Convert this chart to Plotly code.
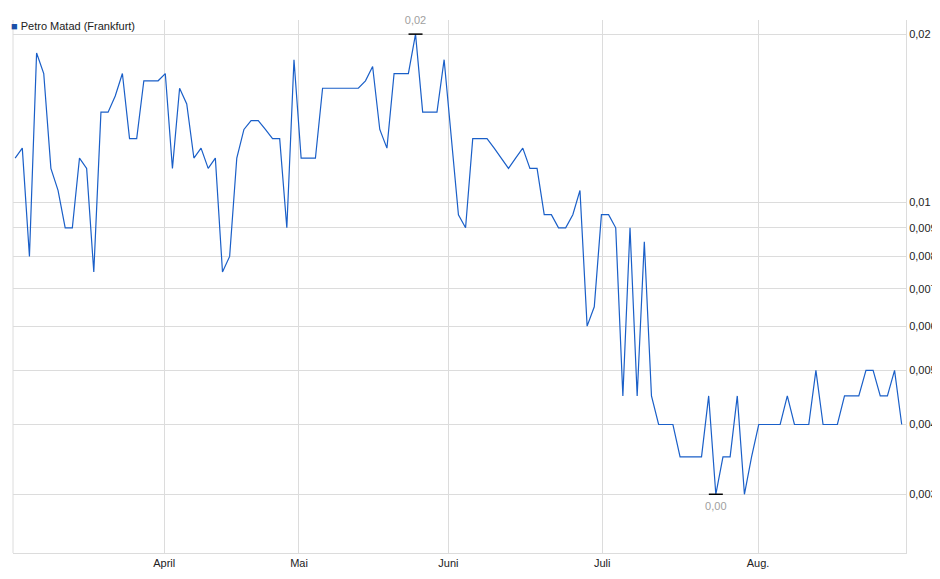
import plotly.graph_objects as go
import numpy as np

series_name = "Petro Matad (Frankfurt)"
prices = [0.012, 0.0125, 0.008, 0.0185, 0.017, 0.0115, 0.0105, 0.009, 0.009, 0.012,
          0.0115, 0.0075, 0.0145, 0.0145, 0.0155, 0.017, 0.013, 0.013, 0.0165, 0.0165,
          0.0165, 0.017, 0.0115, 0.016, 0.015, 0.012, 0.0125, 0.0115, 0.012, 0.0075,
          0.008, 0.012, 0.0135, 0.014, 0.014, 0.0135, 0.013, 0.013, 0.009, 0.018,
          0.012, 0.012, 0.012, 0.016, 0.016, 0.016, 0.016, 0.016, 0.016, 0.0165,
          0.0175, 0.0135, 0.0125, 0.017, 0.017, 0.017, 0.02, 0.0145, 0.0145, 0.0145,
          0.018, 0.013, 0.0095, 0.009, 0.013, 0.013, 0.013, 0.0125, 0.012, 0.0115,
          0.012, 0.0125, 0.0115, 0.0115, 0.0095, 0.0095, 0.009, 0.009, 0.0095, 0.0105,
          0.006, 0.0065, 0.0095, 0.0095, 0.009, 0.0045, 0.009, 0.0045, 0.0085, 0.0045,
          0.004, 0.004, 0.004, 0.0035, 0.0035, 0.0035, 0.0035, 0.0045, 0.003, 0.0035,
          0.0035, 0.0045, 0.003, 0.0035, 0.004, 0.004, 0.004, 0.004, 0.0045, 0.004,
          0.004, 0.004, 0.005, 0.004, 0.004, 0.004, 0.0045, 0.0045, 0.0045, 0.005,
          0.005, 0.0045, 0.0045, 0.005, 0.004]
month_labels = ["April", "Mai", "Juni", "Juli", "Aug."]
month_positions = [20.85, 39.7, 60.6, 82.1, 103.9]
y_tick_vals = [0.02, 0.01, 0.009, 0.008, 0.007, 0.006, 0.005, 0.004, 0.003]
y_tick_text = ["0,02", "0,01", "0,009", "0,008", "0,007", "0,006", "0,005", "0,004", "0,003"]

x = list(range(len(prices)))
imax = int(np.argmax(prices))
imin = int(np.argmin(prices))

fig = go.Figure()
fig.add_trace(go.Scatter(x=x, y=prices, mode="lines", name=series_name,
                         line=dict(color="#1a5fc8", width=1.2)))
fig.add_trace(go.Scatter(x=[imax, imin], y=[prices[imax], prices[imin]], mode="markers+text",
                         marker=dict(symbol="line-ew", size=10, line=dict(color="black", width=1.5)),
                         text=["0,02", "0,00"], textposition=["top center", "bottom center"],
                         textfont=dict(color="#a0a0a0", size=11), showlegend=False, cliponaxis=False))

fig.update_layout(
    width=940, height=579,
    margin=dict(l=5, r=42, t=12, b=34, autoexpand=False),
    plot_bgcolor="white", paper_bgcolor="white",
    font=dict(family="Liberation Sans, Arial", size=11, color="#222"),
    showlegend=False,
    xaxis=dict(range=[-0.3, 124.6], tickvals=month_positions, ticktext=month_labels,
               showgrid=True, gridcolor="#dcdcdc", zeroline=False, showline=True,
               linecolor="#dcdcdc", ticks="", automargin=False),
    yaxis=dict(type="log", range=[np.log10(0.002355), np.log10(0.0212)], side="right",
               tickvals=y_tick_vals, ticktext=y_tick_text, showgrid=True, gridcolor="#dcdcdc",
               zeroline=False, showline=True, linecolor="#dcdcdc", ticks="", automargin=False),
    shapes=[dict(type="line", xref="paper", yref="paper", x0=0, x1=0, y0=0, y1=1,
                 line=dict(color="#dcdcdc", width=1))],
    annotations=[dict(xref="paper", yref="paper", x=-0.004, y=1.0, yanchor="middle", xanchor="left",
                      yshift=-6, showarrow=False, text="<span style='color:#1a4fa8'>■</span> " + series_name,
                      font=dict(size=11, color="#222"))],
)
fig.write_html("out.html")
